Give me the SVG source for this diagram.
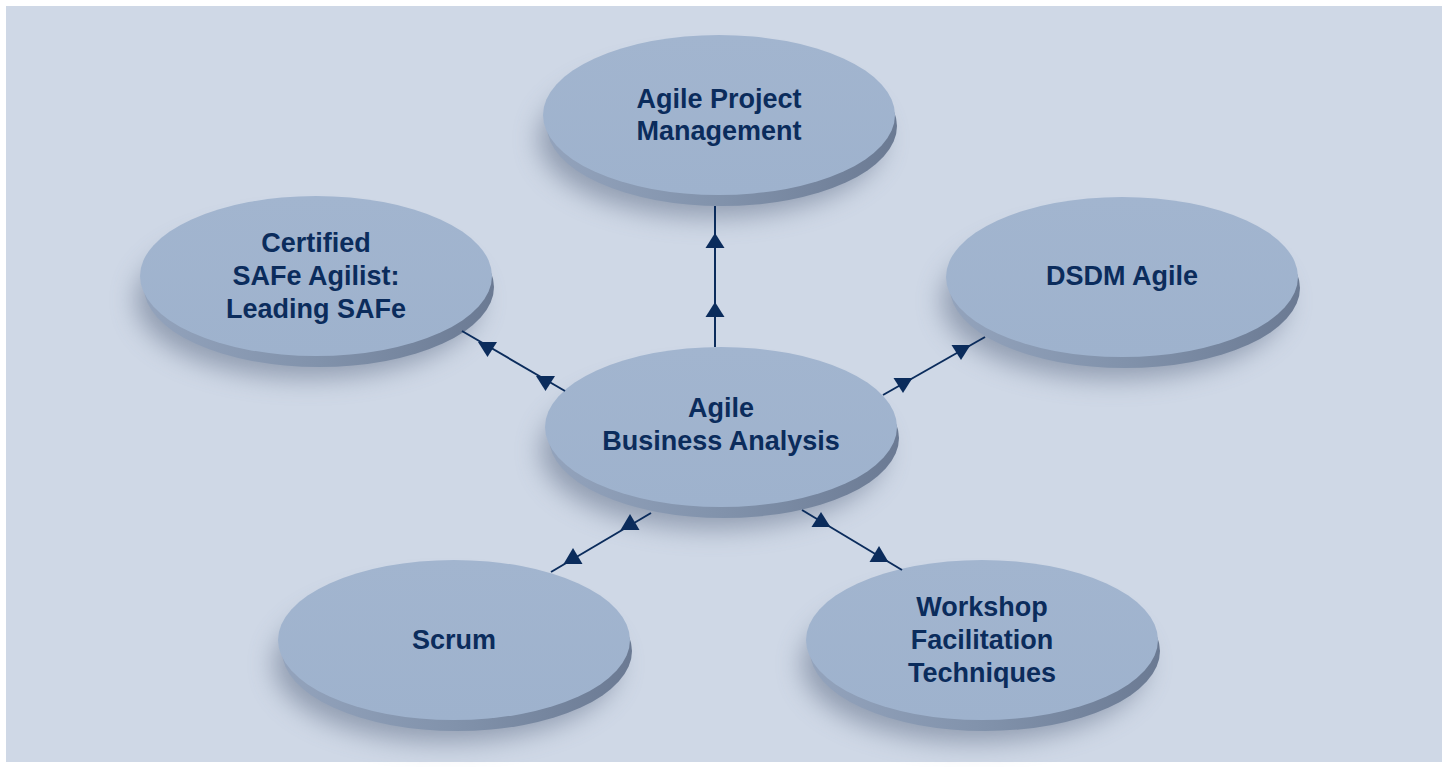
<svg xmlns="http://www.w3.org/2000/svg" width="1449" height="767" viewBox="0 0 1449 767">
<defs>
<style>
.face{fill:url(#faceG);}
.rim{fill:url(#rimG);}
.shadow{fill:#55647e;opacity:0.5;filter:url(#blur);}
.lbl{font-family:"Liberation Sans",Arial,sans-serif;font-weight:bold;font-size:27px;fill:#0b2c5c;text-anchor:middle;}
.conn line{stroke:#0b2c5c;stroke-width:2;}
.conn polygon{fill:#0b2c5c;}
</style>
<linearGradient id="faceG" x1="0" y1="0" x2="0" y2="1">
<stop offset="0" stop-color="#a2b5cf"/>
<stop offset="1" stop-color="#9eb2cd"/>
</linearGradient>
<linearGradient id="rimG" x1="0" y1="0" x2="1" y2="0">
<stop offset="0" stop-color="#93a3bc"/>
<stop offset="0.5" stop-color="#8192ab"/>
<stop offset="1" stop-color="#6b7a93"/>
</linearGradient>
<filter id="blur" x="-30%" y="-30%" width="160%" height="160%">
<feGaussianBlur stdDeviation="13"/>
</filter>
<g id="disc">
<ellipse class="shadow" cx="-8" cy="24" rx="172" ry="78"/>
<ellipse class="rim" cx="3" cy="11" rx="175" ry="80"/>
<ellipse class="face" cx="0" cy="0" rx="176" ry="80"/>
</g>
</defs>
<rect x="0" y="0" width="1449" height="767" fill="#ffffff"/>
<rect x="6" y="6" width="1436" height="756" fill="#cfd8e6"/>

<g id="node-apm">
<use href="#disc" x="719" y="115"/>
<text class="lbl" x="719" y="108">Agile Project</text>
<text class="lbl" x="719" y="140">Management</text>
</g>
<g id="node-safe">
<use href="#disc" x="316" y="276"/>
<text class="lbl" x="316" y="252">Certified</text>
<text class="lbl" x="316" y="285">SAFe Agilist:</text>
<text class="lbl" x="316" y="318">Leading SAFe</text>
</g>
<g id="node-dsdm">
<use href="#disc" x="1122" y="277"/>
<text class="lbl" x="1122" y="285">DSDM Agile</text>
</g>
<g id="node-aba">
<use href="#disc" x="721" y="427"/>
<text class="lbl" x="721" y="417">Agile</text>
<text class="lbl" x="721" y="450">Business Analysis</text>
</g>
<g id="node-scrum">
<use href="#disc" x="454" y="640"/>
<text class="lbl" x="454" y="649">Scrum</text>
</g>
<g id="node-wft">
<use href="#disc" x="982" y="640"/>
<text class="lbl" x="982" y="616">Workshop</text>
<text class="lbl" x="982" y="649">Facilitation</text>
<text class="lbl" x="982" y="682">Techniques</text>
</g>

<g id="connectors" class="conn">
<line x1="715" y1="206" x2="715" y2="347"/>
<polygon points="715,233 705.5,248 724.5,248"/>
<polygon points="715,302 705.5,317 724.5,317"/>

<line x1="462" y1="331" x2="565" y2="391"/>
<polygon points="478,342 497,342 487.5,357"/>
<polygon points="536,376 555,376 545.5,391"/>

<line x1="883" y1="395" x2="985" y2="337"/>
<polygon points="951.5,345 970.5,345 961,360"/>
<polygon points="893.5,378 912.5,378 903,393"/>

<line x1="551" y1="572" x2="651" y2="513"/>
<polygon points="630,514 620.5,530 639.5,530"/>
<polygon points="573,548 563.5,564 582.5,564"/>

<line x1="802" y1="510" x2="902" y2="570"/>
<polygon points="821,512 811.5,527 830.5,527"/>
<polygon points="879,546 869.5,562 888.5,562"/>
</g>
</svg>
